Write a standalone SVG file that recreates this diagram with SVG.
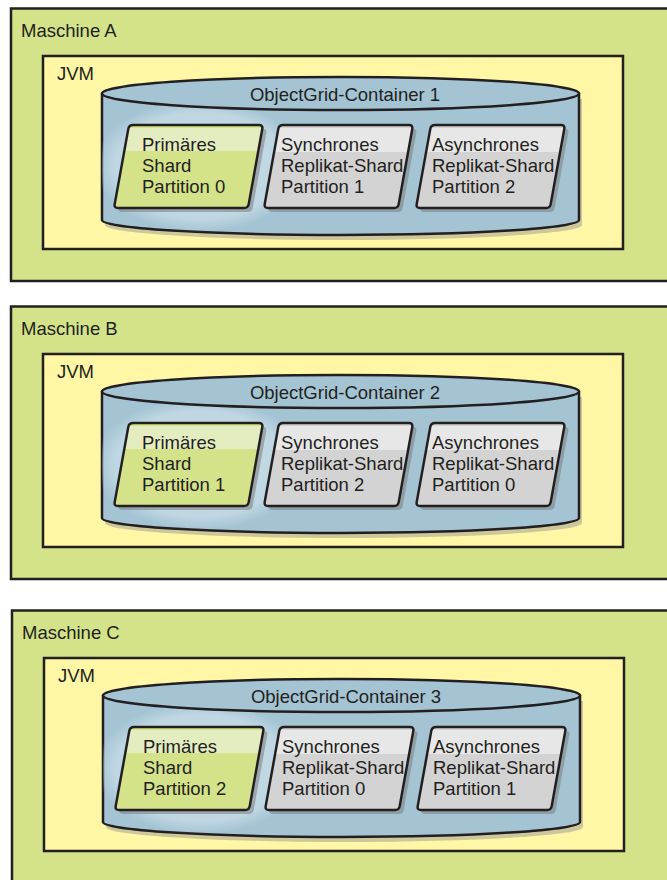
<svg xmlns="http://www.w3.org/2000/svg" xmlns:xlink="http://www.w3.org/1999/xlink" width="667" height="880" viewBox="0 0 667 880">
<style>
.machine{fill:#d4e389;stroke:#231f20;stroke-width:2.5}
.jvm{fill:#fff7a6;stroke:#231f20;stroke-width:2.5}
.cyl{fill:#a4c4d4;stroke:#231f20;stroke-width:2.5}
.cylshadow{fill:#8e8e8e;opacity:.45}
.txt{font-family:"Liberation Sans",Arial,sans-serif;font-size:18.5px;fill:#231f20}
.shadow{fill:#7d7d7d;opacity:.55}
.prim{fill:#d4e389}
.primband{fill:#e4edc0}
.rep{fill:#d3d3d3}
.repband{fill:#e7e7e7}
.outline{fill:none;stroke:#231f20;stroke-width:2.5;stroke-linejoin:round}
</style>
<defs>
<path id="shard" d="M4,0 H130 Q134,0 133.3,3.9 L119.7,79.1 Q119,83 115,83 H-11 Q-15,83 -14.3,79.1 L-0.7,3.9 Q0,0 4,0 Z"/>
<clipPath id="shardClip"><use xlink:href="#shard"/></clipPath>
<path id="body" d="M102,94 V220 A238.5,15 0 0 0 579,220 V94 Z"/>
<clipPath id="bodyClip"><use xlink:href="#body"/></clipPath>
<radialGradient id="glow" cx="0.5" cy="0.5" r="0.5">
<stop offset="0" stop-color="#c6dce6"/>
<stop offset="0.8" stop-color="#bfd7e2"/>
<stop offset="1" stop-color="#bfd7e2" stop-opacity="0"/>
</radialGradient>
<g id="cylinder">
<use xlink:href="#body" class="cylshadow" transform="translate(3,5)"/>
<use xlink:href="#body" class="cyl"/>
<ellipse cx="200" cy="166" rx="106" ry="66" fill="url(#glow)" clip-path="url(#bodyClip)"/>
<ellipse cx="340.5" cy="93.5" rx="238.5" ry="16.5" class="cyl"/>
</g>
<g id="primShard">
<use xlink:href="#shard" class="shadow" transform="translate(4,4)"/>
<use xlink:href="#shard" class="prim"/>
<rect x="-20" y="3" width="160" height="23" class="primband" clip-path="url(#shardClip)"/>
<use xlink:href="#shard" class="outline"/>
</g>
<g id="repShard">
<use xlink:href="#shard" class="shadow" transform="translate(4,4)"/>
<use xlink:href="#shard" class="rep"/>
<rect x="-20" y="3" width="160" height="24" class="repband" clip-path="url(#shardClip)"/>
<use xlink:href="#shard" class="outline"/>
</g>
</defs>

<g id="maschine-a">
<rect x="11" y="8.5" width="670" height="272.5" class="machine"/>
<text x="21" y="37" class="txt">Maschine A</text>
<g id="jvm-a">
<rect x="43" y="56" width="580" height="193" class="jvm"/>
<text x="57" y="80" class="txt">JVM</text>
<g id="container-1">
<use xlink:href="#cylinder"/>
<text x="345" y="101" text-anchor="middle" class="txt">ObjectGrid-Container 1</text>
<g id="a-primary" transform="translate(129,125)">
<use xlink:href="#primShard"/>
<text class="txt"><tspan x="13" y="26">Primäres</tspan><tspan x="13" y="47">Shard</tspan><tspan x="13" y="68">Partition 0</tspan></text>
</g>
<g id="a-sync" transform="translate(279,125)">
<use xlink:href="#repShard"/>
<text class="txt"><tspan x="2" y="26">Synchrones</tspan><tspan x="2" y="47">Replikat-Shard</tspan><tspan x="2" y="68">Partition 1</tspan></text>
</g>
<g id="a-async" transform="translate(431,125)">
<use xlink:href="#repShard"/>
<text class="txt"><tspan x="1" y="26">Asynchrones</tspan><tspan x="1" y="47">Replikat-Shard</tspan><tspan x="1" y="68">Partition 2</tspan></text>
</g>
</g>
</g>
</g>

<g id="maschine-b" transform="translate(0,298)">
<rect x="11" y="8.5" width="670" height="272.5" class="machine"/>
<text x="21" y="37" class="txt">Maschine B</text>
<g id="jvm-b">
<rect x="43" y="56" width="580" height="193" class="jvm"/>
<text x="57" y="80" class="txt">JVM</text>
<g id="container-2">
<use xlink:href="#cylinder"/>
<text x="345" y="101" text-anchor="middle" class="txt">ObjectGrid-Container 2</text>
<g id="b-primary" transform="translate(129,125)">
<use xlink:href="#primShard"/>
<text class="txt"><tspan x="13" y="26">Primäres</tspan><tspan x="13" y="47">Shard</tspan><tspan x="13" y="68">Partition 1</tspan></text>
</g>
<g id="b-sync" transform="translate(279,125)">
<use xlink:href="#repShard"/>
<text class="txt"><tspan x="2" y="26">Synchrones</tspan><tspan x="2" y="47">Replikat-Shard</tspan><tspan x="2" y="68">Partition 2</tspan></text>
</g>
<g id="b-async" transform="translate(431,125)">
<use xlink:href="#repShard"/>
<text class="txt"><tspan x="1" y="26">Asynchrones</tspan><tspan x="1" y="47">Replikat-Shard</tspan><tspan x="1" y="68">Partition 0</tspan></text>
</g>
</g>
</g>
</g>

<g id="maschine-c" transform="translate(1,602)">
<rect x="11" y="8.5" width="670" height="300" class="machine"/>
<text x="21" y="37" class="txt">Maschine C</text>
<g id="jvm-c">
<rect x="43" y="56" width="580" height="193" class="jvm"/>
<text x="57" y="80" class="txt">JVM</text>
<g id="container-3">
<use xlink:href="#cylinder"/>
<text x="345" y="101" text-anchor="middle" class="txt">ObjectGrid-Container 3</text>
<g id="c-primary" transform="translate(129,125)">
<use xlink:href="#primShard"/>
<text class="txt"><tspan x="13" y="26">Primäres</tspan><tspan x="13" y="47">Shard</tspan><tspan x="13" y="68">Partition 2</tspan></text>
</g>
<g id="c-sync" transform="translate(279,125)">
<use xlink:href="#repShard"/>
<text class="txt"><tspan x="2" y="26">Synchrones</tspan><tspan x="2" y="47">Replikat-Shard</tspan><tspan x="2" y="68">Partition 0</tspan></text>
</g>
<g id="c-async" transform="translate(431,125)">
<use xlink:href="#repShard"/>
<text class="txt"><tspan x="1" y="26">Asynchrones</tspan><tspan x="1" y="47">Replikat-Shard</tspan><tspan x="1" y="68">Partition 1</tspan></text>
</g>
</g>
</g>
</g>
</svg>
